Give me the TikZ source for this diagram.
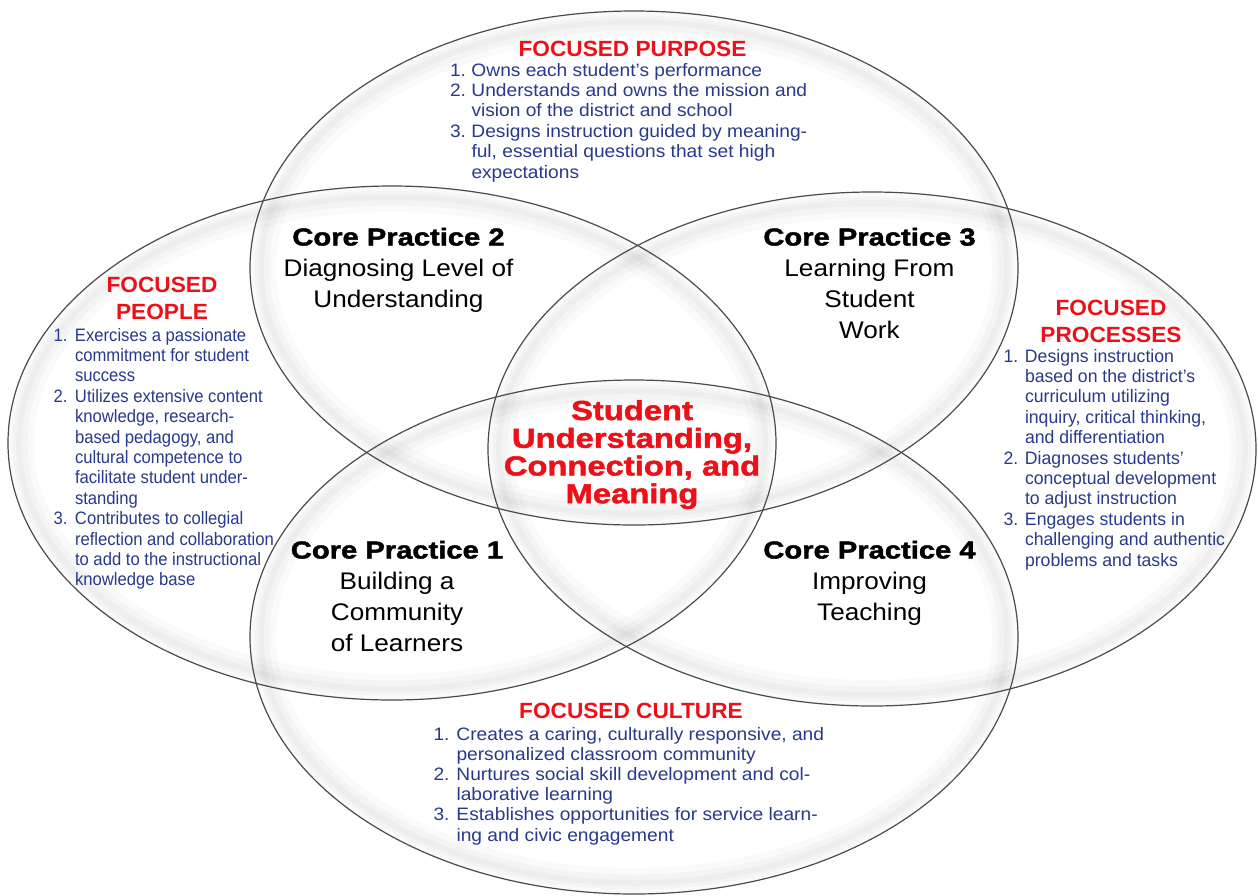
\documentclass[tikz,border=0pt]{standalone}
\usepackage{fontspec}
\setmainfont{Liberation Sans}
\newfontfamily\bluA{Liberation Sans}[FakeStretch=1.065]
\newfontfamily\bluB{Liberation Sans}[FakeStretch=0.98]
\newfontfamily\bluC{Liberation Sans}[FakeStretch=0.925]
\newfontfamily\redhd{Liberation Sans}[FakeStretch=1.03]
\newfontfamily\cpsub{Liberation Sans}[FakeStretch=1.09]
\newfontfamily\heavy{Liberation Sans}[FakeStretch=1.19,FakeBold=1.8]
\definecolor{hdred}{RGB}{238,16,24}
\definecolor{lblue}{RGB}{40,58,140}
\definecolor{ringcol}{RGB}{75,75,75}
\newlength{\numw}
\newcommand{\nb}[1]{\makebox[\numw][l]{#1}}
\tikzset{
  ring/.style={draw=ringcol, line width=1.2pt},
  glowA/.style={draw=black, draw opacity=0.02, line width=26pt},
  glowB/.style={draw=black, draw opacity=0.025, line width=15pt},
  glowC/.style={draw=black, draw opacity=0.025, line width=6pt},
  lbl/.style={inner sep=0pt, outer sep=0pt},
  redhead/.style={lbl, anchor=base, text=hdred, font={\redhd\bfseries\fontsize{22}{27.5}\selectfont}},
  bluelist/.style={lbl, anchor=base west, text=lblue},
  corept/.style={lbl, anchor=base, text=black, font={\cpsub\fontsize{24}{31}\selectfont}},
  centretext/.style={lbl, anchor=base, text=hdred, font={\heavy\bfseries\fontsize{27.5}{26}\selectfont}}
}
\newcommand{\cphead}[1]{{\heavy\bfseries\fontsize{24.5}{31}\selectfont #1}}
\begin{document}
\begin{tikzpicture}[x=1pt,y=-1pt]
\useasboundingbox (0,0) rectangle (1258,895);
\fill[white] (0,0) rectangle (1258,895);
% soft inner glow of the rings
\foreach \cx/\cy in {634/268, 634/637, 392/443, 872/449}{
  \draw[glowA] (\cx,\cy) ellipse [x radius=371, y radius=244];
  \draw[glowB] (\cx,\cy) ellipse [x radius=372, y radius=245];
  \draw[glowC] (\cx,\cy) ellipse [x radius=373, y radius=246];
}
% the four rings
\draw[ring] (634,268) ellipse [x radius=384, y radius=257];
\draw[ring] (634,637) ellipse [x radius=384, y radius=257];
\draw[ring] (392,443) ellipse [x radius=384, y radius=257];
\draw[ring] (872,449) ellipse [x radius=384, y radius=257];

% FOCUSED PURPOSE
\node[redhead] (purposehd) at (632.5,56) {FOCUSED PURPOSE};
\node[bluelist, font={\bluA\fontsize{18}{20.4}\selectfont}] (purposelist) at (450,76)
 {\setlength{\numw}{21.5pt}\begin{tabular}[t]{@{}l@{}l@{}}
 \nb{1.} & Owns each student’s performance\\
 \nb{2.} & Understands and owns the mission and\\
         & vision of the district and school\\
 \nb{3.} & Designs instruction guided by meaning-\\
         & ful, essential questions that set high\\
         & expectations
 \end{tabular}};

% FOCUSED PEOPLE
\node[redhead] (peoplehd) at (162,292) {\begin{tabular}[t]{@{}c@{}}FOCUSED\\PEOPLE\end{tabular}};
\node[bluelist, font={\bluC\fontsize{18}{20.4}\selectfont}] (peoplelist) at (53.5,341)
 {\setlength{\numw}{21.5pt}\begin{tabular}[t]{@{}l@{}l@{}}
 \nb{1.} & Exercises a passionate\\
         & commitment for student\\
         & success\\
 \nb{2.} & Utilizes extensive content\\
         & knowledge, research-\\
         & based pedagogy, and\\
         & cultural competence to\\
         & facilitate student under-\\
         & standing\\
 \nb{3.} & Contributes to collegial\\
         & reflection and collaboration\\
         & to add to the instructional\\
         & knowledge base
 \end{tabular}};

% FOCUSED PROCESSES
\node[redhead] (processhd) at (1111,315) {\begin{tabular}[t]{@{}c@{}}FOCUSED\\PROCESSES\end{tabular}};
\node[bluelist, font={\bluB\fontsize{18}{20.4}\selectfont}] (processlist) at (1003.5,362)
 {\setlength{\numw}{21.5pt}\begin{tabular}[t]{@{}l@{}l@{}}
 \nb{1.} & Designs instruction\\
         & based on the district’s\\
         & curriculum utilizing\\
         & inquiry, critical thinking,\\
         & and differentiation\\
 \nb{2.} & Diagnoses students’\\
         & conceptual development\\
         & to adjust instruction\\
 \nb{3.} & Engages students in\\
         & challenging and authentic\\
         & problems and tasks
 \end{tabular}};

% FOCUSED CULTURE
\node[redhead] (culturehd) at (631,718) {FOCUSED CULTURE};
\node[bluelist, font={\bluA\fontsize{18}{20.2}\selectfont}] (culturelist) at (433.5,740)
 {\setlength{\numw}{23pt}\begin{tabular}[t]{@{}l@{}l@{}}
 \nb{1.} & Creates a caring, culturally responsive, and\\
         & personalized classroom community\\
 \nb{2.} & Nurtures social skill development and col-\\
         & laborative learning\\
 \nb{3.} & Establishes opportunities for service learn-\\
         & ing and civic engagement
 \end{tabular}};

% Core practices
\node[corept] (cp2) at (398.5,245.5) {\begin{tabular}[t]{@{}c@{}}\cphead{Core Practice 2}\\Diagnosing Level of\\Understanding\end{tabular}};
\node[corept] (cp3) at (869.5,245.5) {\begin{tabular}[t]{@{}c@{}}\cphead{Core Practice 3}\\Learning From\\Student\\Work\end{tabular}};
\node[corept] (cp1) at (397,558.5) {\begin{tabular}[t]{@{}c@{}}\cphead{Core Practice 1}\\Building a\\Community\\of Learners\end{tabular}};
\node[corept] (cp4) at (869.5,558.5) {\begin{tabular}[t]{@{}c@{}}\cphead{Core Practice 4}\\Improving\\Teaching\end{tabular}};

% centre
\node[centretext] (centre) at (632,420) {\begin{tabular}[t]{@{}c@{}}Student\\Understanding,\\Connection, and\\Meaning\end{tabular}};
\end{tikzpicture}
\end{document}
